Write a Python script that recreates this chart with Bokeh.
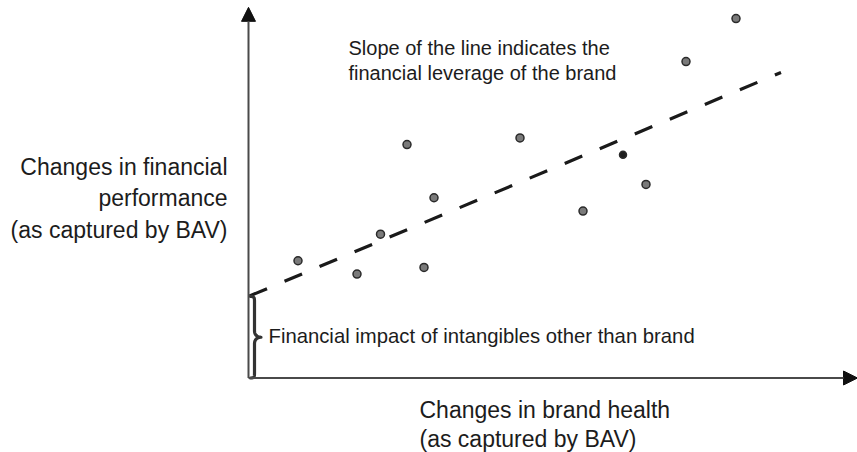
import numpy as np
from bokeh.plotting import figure
from bokeh.models import Arrow, NormalHead, Label, Range1d, ColumnDataSource
from bokeh.embed import file_html
from bokeh.resources import INLINE

# ---- data (arbitrary units: brand health vs financial performance) ----
brand_health = [0.99, 2.17, 2.64, 3.17, 3.71, 3.51, 5.43, 9.75, 8.75, 7.49, 7.95, 6.69]
financial_perf = [3.35, 2.97, 4.11, 6.67, 5.15, 3.16, 6.86, 10.27, 9.04, 6.38, 5.53, 4.77]
highlight_index = 9  # the one darker point

trend_intercept = 2.33
trend_slope = 0.601
trend_x = [0.02, 10.65]

x_axis_end = 12.18
y_axis_end = 10.59

left_label = ["Changes in financial", "performance", "(as captured by BAV)"]
bottom_label = ["Changes in brand health", "(as captured by BAV)"]
slope_note = ["Slope of the line indicates the", "financial leverage of the brand"]
brace_note = "Financial impact of intangibles other than brand"

# ---- layout helpers (pixel scale of the drawing) ----
PX_X = 50.0   # px per x unit
PX_Y = 35.0   # px per y unit
OX, OY = 248.0, 377.5  # canvas position of origin
W, H = 857, 452


def dx(px):
    return px / PX_X


def dy(px):
    return px / PX_Y


p = figure(width=W, height=H,
           x_range=Range1d(-OX / PX_X, (W - OX) / PX_X),
           y_range=Range1d(-(H - OY) / PX_Y, OY / PX_Y),
           output_backend="svg", toolbar_location=None,
           x_axis_location=None, y_axis_location=None,
           min_border=0)
p.grid.visible = False
p.outline_line_color = None
p.background_fill_color = "white"
p.border_fill_color = "white"

# axes with arrowheads
p.add_layout(Arrow(end=NormalHead(size=14, fill_color="#111111", line_color="#111111", line_width=1),
                   x_start=0, y_start=0, x_end=x_axis_end, y_end=0,
                   line_color="#4a4a4a", line_width=2))
p.add_layout(Arrow(end=NormalHead(size=14, fill_color="#111111", line_color="#111111", line_width=1),
                   x_start=0, y_start=0, x_end=0, y_end=y_axis_end,
                   line_color="#4a4a4a", line_width=2))

# trend line
tx = np.array(trend_x)
ty = trend_intercept + trend_slope * tx
p.line(tx, ty, line_color="#1a1a1a", line_width=3.2, line_dash="19 19")


# brace from 0 to intercept
def cubic(p0, p1, p2, p3, n=20):
    t = np.linspace(0, 1, n)[:, None]
    pts = ((1 - t) ** 3) * np.array(p0) + 3 * ((1 - t) ** 2) * t * np.array(p1) \
        + 3 * (1 - t) * t ** 2 * np.array(p2) + t ** 3 * np.array(p3)
    return pts


b = trend_intercept
m = b / 2.0
xe, xs, xt = dx(2.0), dx(6.0), dx(12.5)
r, r2 = dy(5.5), dy(6.5)
segs = [
    cubic((xe, b), (xs, b), (xs, b - r * 0.3), (xs, b - r)),
    np.array([(xs, b - r), (xs, m + r2)]),
    cubic((xs, m + r2), (xs, m + r2 * 0.3), (xt - (xt - xs) * 0.5, m), (xt, m)),
    cubic((xt, m), (xt - (xt - xs) * 0.5, m), (xs, m - r2 * 0.3), (xs, m - r2)),
    np.array([(xs, m - r2), (xs, r)]),
    cubic((xs, r), (xs, r * 0.3), (xs, 0), (xe, 0)),
]
brace = np.vstack(segs)
p.line(brace[:, 0], brace[:, 1], line_color="#333333", line_width=3.2,
       line_join="round", line_cap="round")

# points
fills = ["#7a7a7a"] * len(brand_health)
fills[highlight_index] = "#1e1e1e"
sizes = [8] * len(brand_health)
sizes[highlight_index] = 7
src = ColumnDataSource(dict(x=brand_health, y=financial_perf, fill=fills, size=sizes))
p.scatter("x", "y", source=src, size="size", fill_color="fill",
          line_color="#2a2a2a", line_width=1.5)

FONT = "Liberation Sans"
TXT = "#1c1c1c"

# left label (right aligned)
for i, s in enumerate(left_label):
    p.add_layout(Label(x=dx(227 - OX), y=dy(OY - (166 + 31.5 * i)), text=s,
                       text_font=FONT, text_font_size="23px", text_color=TXT,
                       text_align="right", text_baseline="alphabetic"))

# bottom label
for i, s in enumerate(bottom_label):
    p.add_layout(Label(x=dx(419 - OX), y=dy(OY - (409 + 29 * i)), text=s,
                       text_font=FONT, text_font_size="23px", text_color=TXT,
                       text_align="left", text_baseline="alphabetic"))

# slope note
for i, s in enumerate(slope_note):
    p.add_layout(Label(x=dx(348 - OX), y=dy(OY - (47 + 25.5 * i)), text=s,
                       text_font=FONT, text_font_size="20px", text_color=TXT,
                       text_align="left", text_baseline="alphabetic"))

# brace note
p.add_layout(Label(x=dx(268 - OX), y=dy(OY - 335), text=brace_note,
                   text_font=FONT, text_font_size="20.3px", text_color=TXT,
                   text_align="left", text_baseline="alphabetic"))

open("out.html", "w").write(file_html(p, INLINE))
